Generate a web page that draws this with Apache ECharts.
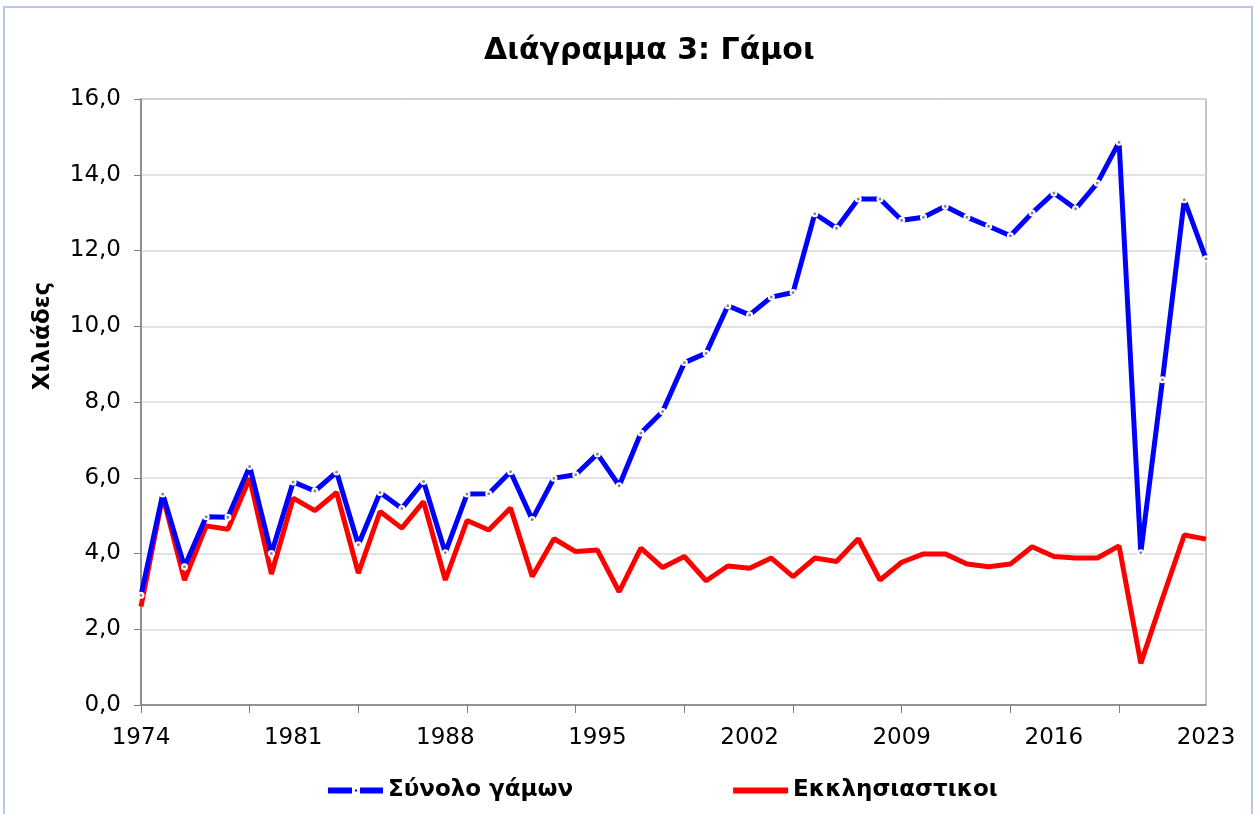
<!DOCTYPE html>
<html>
<head>
<meta charset="utf-8">
<script src="https://cdn.jsdelivr.net/npm/echarts@6/dist/echarts.min.js"></script>
<style>
html,body{margin:0;padding:0;background:#fff;}
#frame{position:absolute;left:3px;top:6px;width:1250px;height:820px;border:2px solid #b4c8e8;box-sizing:border-box;}
#chart{position:absolute;left:0;top:0;width:1260px;height:814px;}
</style>
</head>
<body>
<div id="frame"></div>
<div id="chart"></div>
<script>
const years = ['1974','1975','1976','1977','1978','1979','1980','1981','1982','1983','1984','1985','1986','1987','1988','1989','1990','1991','1992','1993','1994','1995','1996','1997','1998','1999','2000','2001','2002','2003','2004','2005','2006','2007','2008','2009','2010','2011','2012','2013','2014','2015','2016','2017','2018','2019','2020','2021','2022','2023'];
const totalMarriages = [2.90,5.57,3.65,4.97,4.96,6.30,4.00,5.89,5.65,6.15,4.23,5.61,5.19,5.90,4.02,5.57,5.58,6.16,4.90,5.99,6.08,6.63,5.79,7.18,7.75,9.04,9.29,10.54,10.30,10.77,10.89,12.97,12.59,13.36,13.36,12.80,12.88,13.17,12.88,12.64,12.39,12.99,13.52,13.10,13.78,14.86,4.02,8.59,13.34,11.78];
const churchMarriages = [2.60,5.52,3.30,4.73,4.64,5.99,3.46,5.46,5.13,5.61,3.48,5.11,4.67,5.37,3.30,4.87,4.62,5.20,3.39,4.39,4.05,4.09,2.99,4.14,3.63,3.92,3.28,3.67,3.61,3.88,3.39,3.88,3.79,4.39,3.30,3.77,3.99,3.99,3.72,3.65,3.72,4.18,3.92,3.88,3.88,4.20,1.10,2.82,4.49,4.38];
const seriesNames = ['Σύνολο γάμων','Εκκλησιαστικοι'];
const titleText = 'Διάγραμμα 3: Γάμοι';
const yAxisName = 'Χιλιάδες';

const FONT = '"DejaVu Sans", Verdana, sans-serif';
const chart = echarts.init(document.getElementById('chart'));
chart.setOption({
  animation: false,
  backgroundColor: 'transparent',
  title: {
    text: titleText,
    left: 479,
    top: 31,
    textStyle: {fontFamily: FONT, fontSize: 30, fontWeight: 'bold', color: '#000'}
  },
  graphic: [{
    type: 'text',
    x: 43, y: 336,
    rotation: Math.PI / 2,
    style: {
      text: yAxisName,
      fontFamily: FONT, fontSize: 23, fontWeight: 'bold', fill: '#000',
      align: 'center', verticalAlign: 'middle'
    }
  }],
  legend: {
    left: 323,
    top: 774,
    itemWidth: 55,
    itemHeight: 6,
    itemGap: 160,
    symbolKeepAspect: false,
    textStyle: {fontFamily: FONT, fontSize: 23, fontWeight: 'bold', color: '#000'},
    data: [
      {name: seriesNames[0], icon: 'path://M0,0H24V6H0Z M27,2H29V4H27Z M32,0H55V6H32Z',
       itemStyle: {color: '#0000ff', borderWidth: 0}},
      {name: seriesNames[1], icon: 'path://M0,0H55V6H0Z',
       itemStyle: {color: '#ff0000', borderWidth: 0}}
    ]
  },
  grid: {
    left: 141, right: 54, top: 99, bottom: 109,
    show: true, borderColor: '#8c8c8c', borderWidth: 1
  },
  xAxis: {
    type: 'category',
    data: years,
    boundaryGap: false,
    axisLine: {lineStyle: {color: '#7f7f7f', width: 1.5}},
    axisTick: {show: true, interval: (i) => i % 5 === 0, length: 8, lineStyle: {color: '#7f7f7f'}},
    axisLabel: {interval: (i) => i % 7 === 0, fontFamily: FONT, fontSize: 23, color: '#000', margin: 22},
    splitLine: {show: false}
  },
  yAxis: {
    type: 'value',
    min: 0, max: 16, interval: 2,
    axisLine: {show: true, lineStyle: {color: '#7f7f7f', width: 1.5}},
    axisTick: {show: true, length: 7, lineStyle: {color: '#7f7f7f'}},
    axisLabel: {fontFamily: FONT, fontSize: 23, color: '#000', margin: 20,
      formatter: (v) => v.toFixed(1).replace('.', ',')},
    splitLine: {show: true, lineStyle: {color: '#d9d9d9', width: 1.5}}
  },
  series: [
    {
      name: seriesNames[0],
      type: 'line',
      data: totalMarriages,
      showSymbol: true,
      showAllSymbol: true,
      symbol: 'circle',
      symbolSize: 5,
      itemStyle: {color: '#8a8a8a', borderColor: '#ffffff', borderWidth: 2},
      lineStyle: {color: '#0000ff', width: 5},
      z: 3
    },
    {
      name: seriesNames[1],
      type: 'line',
      data: churchMarriages,
      showSymbol: false,
      itemStyle: {color: '#ff0000'},
      lineStyle: {color: '#ff0000', width: 5},
      z: 2
    }
  ]
});
</script>
</body>
</html>
